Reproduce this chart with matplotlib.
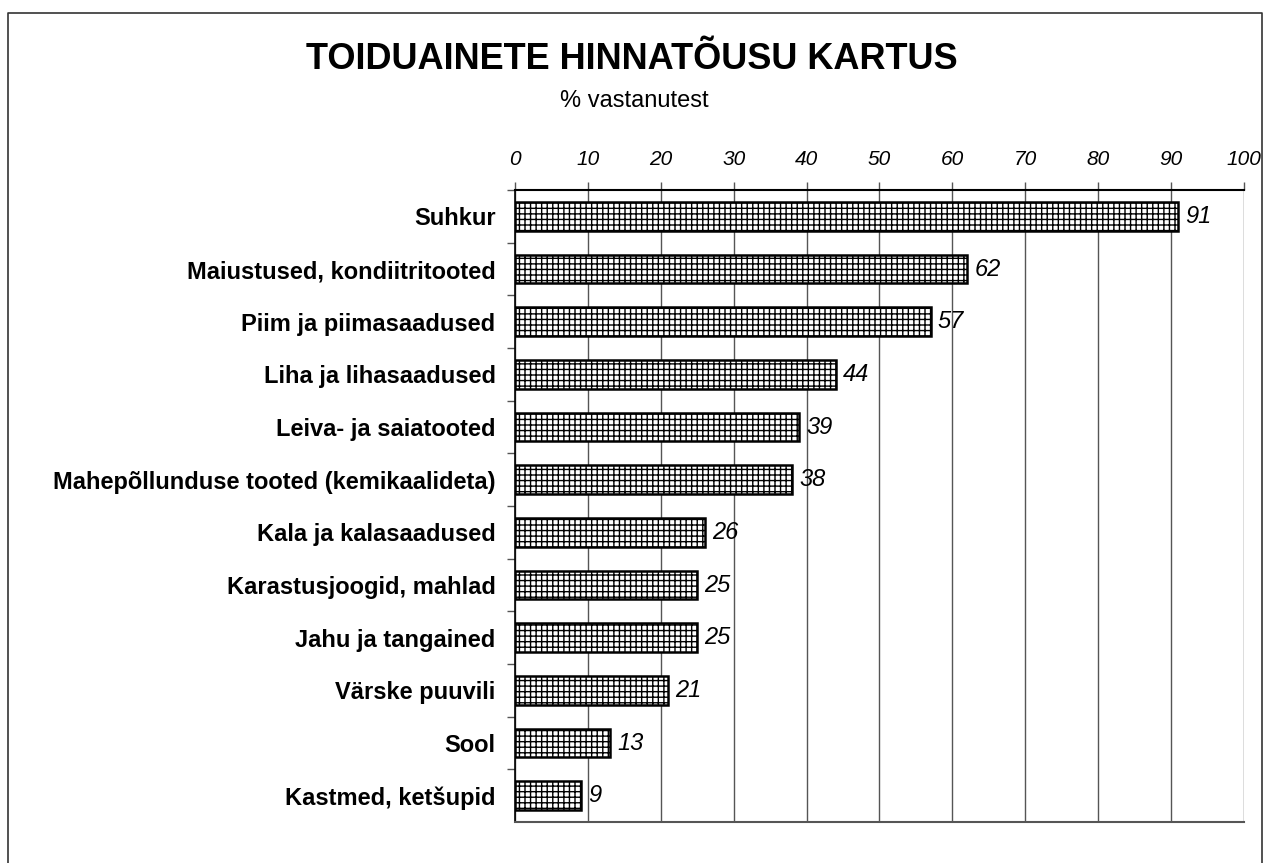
import matplotlib.pyplot as plt
from matplotlib.lines import Line2D

plt.rcParams['font.family'] = ['Liberation Sans', 'DejaVu Sans']
plt.rcParams['hatch.linewidth'] = 1.0

categories = ['Suhkur', 'Maiustused, kondiitritooted', 'Piim ja piimasaadused',
              'Liha ja lihasaadused', 'Leiva- ja saiatooted',
              'Mahepõllunduse tooted (kemikaalideta)', 'Kala ja kalasaadused',
              'Karastusjoogid, mahlad', 'Jahu ja tangained', 'Värske puuvili',
              'Sool', 'Kastmed, ketšupid']
values = [91, 62, 57, 44, 39, 38, 26, 25, 25, 21, 13, 9]
ticks = list(range(0, 101, 10))

fig = plt.figure(figsize=(12.66, 8.63), dpi=100)
ax = fig.add_axes([0.4068, 0.0475, 0.5758, 0.7323])

pos = list(range(len(categories)))
ax.barh(pos, values, height=0.54, color='white', edgecolor='black',
        linewidth=1.8, hatch='+++', zorder=3)
ax.set_ylim(len(categories) - 0.5, -0.5)
ax.set_xlim(0, 100)

for p, v in zip(pos, values):
    ax.text(v + 1.0, p, str(v), va='center', ha='left', fontsize=17,
            style='italic', zorder=4)

ax.xaxis.tick_top()
ax.set_xticks(ticks)
ax.set_xticklabels([str(t) for t in ticks], fontsize=15, style='italic')
ax.tick_params(axis='x', length=6, width=1, color='#555555', pad=9)
ax.grid(axis='x', color='#555555', linewidth=1, zorder=0)

ax.set_yticks(pos)
ax.set_yticklabels(categories, fontsize=17, fontweight='bold')
ax.tick_params(axis='y', length=0, pad=14)
ax.set_yticks([p + 0.5 for p in pos[:-1]] + [-0.5], minor=True)
ax.tick_params(axis='y', which='minor', length=6, width=1, color='#555555')

ax.spines['right'].set_visible(False)
ax.spines['top'].set_color('black')
ax.spines['top'].set_linewidth(1.5)
ax.spines['left'].set_color('black')
ax.spines['left'].set_linewidth(1.2)
ax.spines['bottom'].set_color('#555555')
ax.spines['bottom'].set_linewidth(1.5)

fig.text(0.4992, 0.931, 'TOIDUAINETE HINNATÕUSU KARTUS', ha='center', va='center',
         fontsize=26, fontweight='bold')
fig.text(0.5008, 0.883, '% vastanutest', ha='center', va='center', fontsize=17)

# border around the figure
bx = [8 / 1266, 8 / 1266, 1262 / 1266, 1262 / 1266]
by = [0, 1 - 13 / 863, 1 - 13 / 863, 0]
fig.add_artist(Line2D(bx, by, color='#333333', linewidth=1.2))

fig.savefig('out.png', dpi=100)
